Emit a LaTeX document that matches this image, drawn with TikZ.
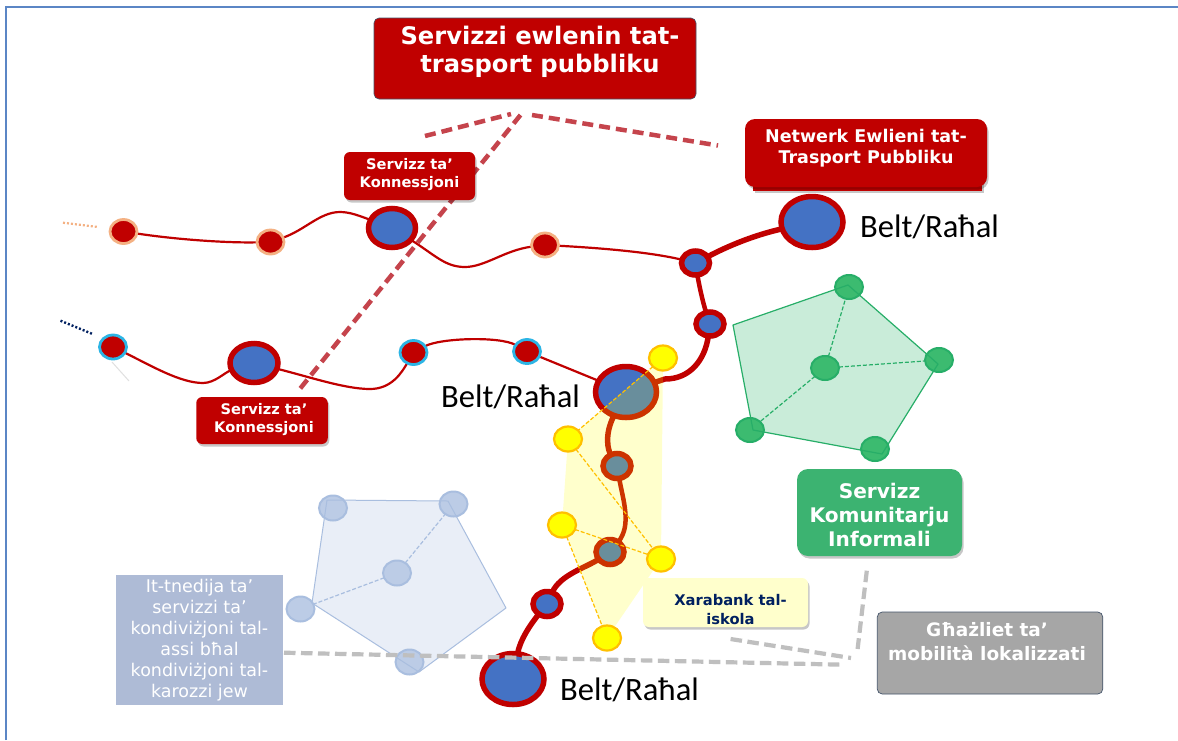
\documentclass[tikz,border=0pt]{standalone}
\usepackage{fontspec}
\setmainfont{DejaVu Sans}
\newfontfamily\beltfont{Carlito}
\usetikzlibrary{shapes.geometric,shadows}
\definecolor{tred}{HTML}{C00000}
\definecolor{tblue}{HTML}{4472C4}
\definecolor{dashred}{HTML}{C5444C}
\definecolor{dashgrey}{HTML}{BFBFBF}
\definecolor{peach}{HTML}{F4B183}
\definecolor{cyanring}{HTML}{2CB5E5}
\definecolor{ydotfill}{HTML}{FFFF00}
\definecolor{yring}{HTML}{FFC000}
\definecolor{gfill}{HTML}{C9ECD9}
\definecolor{gline}{HTML}{27AE68}
\definecolor{gdotfill}{HTML}{3CBB70}
\definecolor{bpfill}{HTML}{E9EEF7}
\definecolor{bpline}{HTML}{A9BEDF}
\definecolor{bdotfill}{HTML}{BCCCE6}
\definecolor{frameblue}{HTML}{5B86C5}
\definecolor{navytext}{HTML}{002060}
\definecolor{tboxfill}{HTML}{AEBBD6}
\definecolor{boxedge}{HTML}{44546A}
\definecolor{greenbox}{HTML}{3CB371}
\definecolor{creamfill}{HTML}{FFFFCC}
\definecolor{greyfill}{HTML}{A6A6A6}
\pgfdeclarelayer{paper}
\pgfdeclarelayer{polys}
\pgfdeclarelayer{routes}
\pgfdeclarelayer{veil}
\pgfdeclarelayer{upper}
\pgfdeclarelayer{boxes}
\pgfsetlayers{paper,polys,routes,main,veil,upper,boxes}
\tikzset{
  softshadow/.style={drop shadow={shadow xshift=1.5pt,shadow yshift=-2.5pt,opacity=.22,fill=black}},
  hub/.style 2 args={ellipse,draw=tred,line width=5.5pt,fill=tblue,inner sep=0pt,outer sep=0pt,minimum width=#1,minimum height=#2,softshadow},
  stopdot/.style={ellipse,draw=#1,line width=2.8pt,fill=tred,inner sep=0pt,outer sep=0pt,minimum width=27pt,minimum height=24pt},
  ydot/.style={ellipse,draw=yring,line width=2.2pt,fill=ydotfill,inner sep=0pt,outer sep=0pt,minimum width=28pt,minimum height=25pt},
  gdot/.style={ellipse,draw=gline,line width=2pt,fill=gdotfill,inner sep=0pt,outer sep=0pt,minimum width=28pt,minimum height=24pt},
  bdot/.style={ellipse,draw=bpline,line width=2pt,fill=bdotfill,inner sep=0pt,outer sep=0pt,minimum width=28pt,minimum height=25pt},
  thin route/.style={draw=tred,line width=2.2pt},
  thick route/.style={draw=tred,line width=5.5pt},
  reddash/.style={draw=dashred,line width=4.5pt,dash pattern=on 11pt off 6pt},
  greydash/.style={draw=dashgrey,line width=4.2pt,dash pattern=on 11.5pt off 5.5pt},
  ydash/.style={draw=yring,line width=1.2pt,dash pattern=on 4pt off 2pt},
  gdash/.style={draw=gline,line width=1.2pt,dash pattern=on 4pt off 2pt},
  bdash/.style={draw=bpline,line width=1.2pt,dash pattern=on 4pt off 2pt},
  redbox/.style={fill=tred,text=white,align=center,inner sep=0pt},
  beltlabel/.style={font=\beltfont\fontsize{32.6}{34}\selectfont,text=black,inner sep=0pt},
}
\begin{document}
\begin{tikzpicture}[x=1pt,y=-1pt]
\useasboundingbox (0,0) rectangle (1178,740);
\begin{pgfonlayer}{paper}
\fill[white] (0,0) rectangle (1178,740);
\end{pgfonlayer}
\coordinate (frameA) at (6,740);
\coordinate (frameB) at (6,7);
\coordinate (frameC) at (1178,7);
\draw[frameblue,line width=1.6pt] (frameA) -- (frameB) -- (frameC);

% hubs
\node[hub={47pt}{39pt}] (hbig1) at (392,228) {};
\node[hub={62pt}{51pt}] (hTR) at (812,222) {};
\node[hub={28pt}{24pt}] (hS1) at (695.5,263) {};
\node[hub={28pt}{24pt}] (hS2) at (710,324) {};
\node[hub={61pt}{51pt}] (hC) at (626,392) {};
\node[hub={48pt}{39pt}] (hL) at (254,363) {};
\node[hub={28pt}{25pt}] (hO1) at (617,466) {};
\node[hub={28pt}{25pt}] (hO2) at (610,552) {};
\node[hub={28pt}{25pt}] (hS3) at (547,604) {};
\node[hub={62pt}{51pt}] (hB) at (513,679) {};
% stops
\node[stopdot=peach] (a1) at (123.5,231.5) {};
\node[stopdot=peach] (a2) at (270.5,242) {};
\node[stopdot=peach] (a3) at (545,245) {};
\node[stopdot=cyanring] (c1) at (113,347) {};
\node[stopdot=cyanring] (c3) at (413.5,352.5) {};
\node[stopdot=cyanring] (c4) at (527,351.5) {};

\begin{pgfonlayer}{routes}
\draw[thin route] (a1) .. controls (180,240) and (230,243) .. (a2);
\draw[thin route] (a2) .. controls (305,230) and (320,212) .. (340,212) .. controls (350,212) and (360,216) .. (hbig1);
\draw[thin route] (hbig1) .. controls (435,255) and (445,267) .. (465,267) .. controls (485,267) and (505,250) .. (a3);
\draw[thin route] (a3) .. controls (600,248) and (650,252) .. (hS1);
\draw[thin route] (c1) .. controls (150,365) and (180,383) .. (203,383) .. controls (215,383) and (225,372) .. (hL);
\draw[thin route] (hL) .. controls (310,377) and (345,389) .. (370,389) .. controls (392,389) and (402,372) .. (c3);
\draw[thin route] (c3) .. controls (440,338) and (500,336) .. (c4);
\draw[thin route] (c4) -- (hC);
\draw[thick route] (hTR) .. controls (755,235) and (730,245) .. (hS1);
\draw[thick route,line width=4.5pt] (hS1) .. controls (699,285) and (703,303) .. (hS2);
\draw[thick route] (hS2) .. controls (705,360) and (690,379) .. (665,379) -- (hC);
\draw[thick route] (hC) .. controls (604,435) and (608,450) .. (hO1);
\draw[thick route,line width=4.5pt] (hO1) .. controls (623,500) and (632,525) .. (hO2);
\draw[thick route] (hO2) .. controls (585,568) and (560,575) .. (hS3);
\draw[thick route] (hS3) .. controls (530,625) and (520,640) .. (hB);
\coordinate (leadP1) at (63,222.7);
\coordinate (leadP2) at (98,227);
\coordinate (leadN1) at (60.5,320.7);
\coordinate (leadN2) at (92.6,334);
\coordinate (ghostA) at (112,362);
\coordinate (ghostB) at (129,381);
\draw[peach,line width=2.2pt,dash pattern=on 2pt off 2pt] (leadP1) -- (leadP2);
\draw[navytext,line width=2.4pt,dash pattern=on 2pt off 2pt] (leadN1) -- (leadN2);
\draw[black!12,line width=1pt] (ghostA) -- (ghostB);
\end{pgfonlayer}

% yellow dots and veil
\begin{pgfonlayer}{upper}
\node[ydot] (y1) at (663,358) {};
\node[ydot] (y2) at (568,439) {};
\node[ydot] (y3) at (562,525) {};
\node[ydot] (y4) at (661,559) {};
\node[ydot] (y5) at (607,638) {};
\draw[ydash] (y1) -- (y2);
\draw[ydash] (y2) -- (y4);
\draw[ydash] (y3) -- (y4);
\draw[ydash] (y3) -- (y5);
\end{pgfonlayer}
\begin{pgfonlayer}{veil}
\fill[ydotfill,opacity=.2] (y1.center) -- (y2.center) -- (y3.center) -- (y5.center) -- (y4.center) -- cycle;
\end{pgfonlayer}

% green cluster
\begin{pgfonlayer}{polys}
\coordinate (gp0) at (733,325);
\coordinate (gp1) at (848,285);
\coordinate (gp2) at (938,364);
\coordinate (gp3) at (882,454);
\coordinate (gp4) at (753,430);
\fill[gfill] (gp0) -- (gp1) -- (gp2) -- (gp3) -- (gp4) -- cycle;
\node[gdot] (g1) at (849,287) {};
\node[gdot] (g2) at (939,360) {};
\node[gdot] (g3) at (875,449) {};
\node[gdot] (g4) at (750,430) {};
\node[gdot] (g0) at (825,368) {};
\draw[gline,line width=1.2pt,line join=round] (gp0) -- (gp1) -- (gp2) -- (gp3) -- (gp4) -- cycle;
\draw[gdash] (g0) -- (g1);
\draw[gdash] (g0) -- (g2);
\draw[gdash] (g0) -- (g4);
% blue cluster
\coordinate (bp0) at (327,500);
\coordinate (bp1) at (448,501);
\coordinate (bp2) at (506,608);
\coordinate (bp3) at (419,672);
\coordinate (bp4) at (312,603);
\fill[bpfill] (bp0) -- (bp1) -- (bp2) -- (bp3) -- (bp4) -- cycle;
\node[bdot] (b1) at (333,508) {};
\node[bdot] (b2) at (453.5,504) {};
\node[bdot] (b3) at (409.5,662) {};
\node[bdot] (b4) at (300.5,609) {};
\node[bdot] (b0) at (397,573) {};
\draw[bpline,line width=1pt,line join=round] (bp0) -- (bp1) -- (bp2) -- (bp3) -- (bp4) -- cycle;
\draw[bdash] (b0) -- (b2);
\draw[bdash] (b0) -- (b4);
\end{pgfonlayer}

% boxes
\begin{pgfonlayer}{boxes}
\coordinate (rd1) at (425,136);
\coordinate (rd2) at (511,114);
\coordinate (rd3) at (520.5,115);
\coordinate (rd4) at (296.6,393);
\coordinate (rd5) at (532,115);
\coordinate (rd6) at (718,145.5);
\draw[reddash] (rd1) -- (rd2);
\draw[reddash] (rd3) -- (rd4);
\draw[reddash] (rd5) -- (rd6);
\coordinate (gd1) at (284,652.7);
\coordinate (gd2) at (844,664.7);
\coordinate (gd3) at (730.6,639);
\coordinate (gd4) at (851,658);
\coordinate (gd5) at (866.8,570.7);
\coordinate (gd6) at (857.6,649);
\draw[greydash] (gd1) -- (gd2);
\draw[greydash] (gd3) -- (gd4);
\draw[greydash] (gd5) -- (gd6);

\node[redbox,draw=boxedge,line width=.6pt,rounded corners=5pt,minimum width=322pt,minimum height=81pt,font=\bfseries\fontsize{24.2}{28}\selectfont] (topbox) at (535,58.5) {\hspace*{10pt}Servizzi ewlenin tat-\\\hspace*{10pt}trasport pubbliku\\[-10pt]\mbox{}};
\node[fill=tred,inner sep=0pt,minimum width=229pt,minimum height=10pt,softshadow] (netstrip) at (867.5,185.5) {};
\node[redbox,rounded corners=10pt,minimum width=242pt,minimum height=68pt,softshadow,font=\bfseries\fontsize{17.5}{21}\selectfont] (netbox) at (866,153) {Netwerk Ewlieni tat-\\Trasport Pubbliku\\[-8pt]\mbox{}};
\node[redbox,rounded corners=6pt,minimum width=131pt,minimum height=48pt,softshadow,font=\bfseries\fontsize{14.6}{18}\selectfont] (konn1) at (409.5,176) {Servizz ta\char39\\Konnessjoni\\[-12pt]\mbox{}};
\node[redbox,rounded corners=6pt,minimum width=131.5pt,minimum height=47pt,softshadow,font=\bfseries\fontsize{14.6}{18}\selectfont] (konn2) at (262,420.5) {\hspace*{4pt}Servizz ta\char39\\\hspace*{4pt}Konnessjoni\\[-13pt]\mbox{}};
\node[fill=greenbox,text=white,align=center,inner sep=0pt,rounded corners=11pt,minimum width=165pt,minimum height=87pt,softshadow,font=\bfseries\fontsize{20.1}{23.7}\selectfont] (greenlabel) at (879.5,512.5) {\mbox{}\\[-3.7pt]Servizz\\Komunitarju\\Informali};
\node[fill=creamfill,text=navytext,align=center,inner sep=0pt,rounded corners=6pt,minimum width=165pt,minimum height=49pt,softshadow,font=\bfseries\fontsize{14.7}{19}\selectfont] (xbox) at (725.5,602.5) {\mbox{}\\[7pt]\hspace*{10pt}Xarabank tal-\\\hspace*{10pt}iskola};
\node[fill=greyfill,draw=boxedge,line width=.7pt,text=white,align=center,inner sep=0pt,rounded corners=5pt,minimum width=225.5pt,minimum height=82pt,font=\bfseries\fontsize{18.5}{24}\selectfont] (greybox) at (990,653) {Għażliet ta’\hspace*{6pt}\mbox{}\\mobilità lokalizzati\hspace*{6pt}\mbox{}\\\mbox{}};
\node[fill=tboxfill,text=white,align=center,inner sep=0pt,minimum width=167pt,minimum height=130pt,font=\fontsize{17.5}{21}\selectfont] (tbox) at (199.5,640) {It-tnedija ta’\\servizzi ta’\\kondiviżjoni tal-\\assi bħal\\kondiviżjoni tal-\\karozzi jew};

\node[beltlabel,anchor=west] (belt1) at (860,227) {Belt/Raħal};
\node[beltlabel,anchor=west] (belt2) at (441,396.5) {Belt/Raħal};
\node[beltlabel,anchor=west] (belt3) at (560,690) {Belt/Raħal};
\end{pgfonlayer}
\end{tikzpicture}
\end{document}
